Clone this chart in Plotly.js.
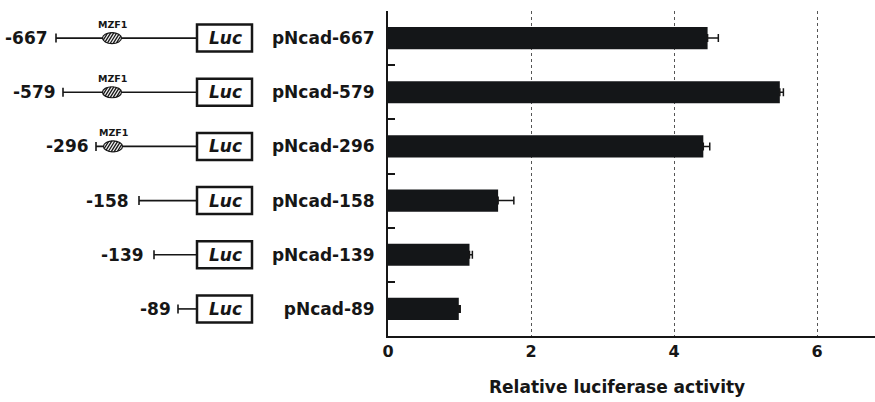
<!DOCTYPE html>
<html>
<head>
<meta charset="utf-8">
<script src="https://cdn.plot.ly/plotly-3.0.1.min.js"></script>
<style>html,body{margin:0;padding:0;background:#fff;}#chart{width:875px;height:402px;}</style>
</head>
<body>
<div id="chart"></div>
<script>
// ---- data ----
const constructs = ['pNcad-667', 'pNcad-579', 'pNcad-296', 'pNcad-158', 'pNcad-139', 'pNcad-89'];
const activity = [4.47, 5.48, 4.41, 1.54, 1.14, 0.99];
const errPlus = [0.15, 0.05, 0.09, 0.22, 0.04, 0.02];
const startLabels = ['-667', '-579', '-296', '-158', '-139', '-89'];
const hasMZF1 = [true, true, true, false, false, false];
const xTickVals = [0, 2, 4, 6];

// ---- schematic layout (page pixels) ----
const W = 875, H = 402, plotTop = 11, plotBottom = 336, axisX = 388;
const labelRight = [50, 58, 91, 131, 146, 173];
const lineStart = [56, 63, 96, 139, 154, 178];
const mzfX = [112, 112, 113];
const boxL = 197, boxR = 252, boxHalfH = 13.5;
const ink = '#161616';
const FONT = 'DejaVu Sans, Liberation Sans, Arial, sans-serif';

const n = constructs.length;
const rowY = i => plotTop + (i + 0.5) * (plotBottom - plotTop) / n;

const shapes = [];
const annotations = [];
function seg(x0, y0, x1, y1, w) {
  shapes.push({type: 'line', xref: 'x2', yref: 'y2', x0, y0, x1, y1, line: {color: ink, width: w}});
}
for (let i = 0; i < n; i++) {
  const cy = rowY(i);
  seg(lineStart[i], cy - 4.5, lineStart[i], cy + 4.5, 1.6);
  seg(lineStart[i], cy, boxL, cy, 1.6);
  shapes.push({type: 'rect', xref: 'x2', yref: 'y2', x0: boxL, x1: boxR, y0: cy - boxHalfH, y1: cy + boxHalfH,
    line: {color: ink, width: 2.5}, fillcolor: '#fff'});
  annotations.push({xref: 'x2', yref: 'y2', x: (boxL + boxR) / 2 + 1, y: cy, text: 'Luc', showarrow: false,
    xanchor: 'center', yanchor: 'middle', font: {family: FONT, size: 17, weight: 'bold', style: 'italic', color: ink}});
  annotations.push({xref: 'x2', yref: 'y2', x: labelRight[i], y: cy, text: startLabels[i], showarrow: false,
    xanchor: 'right', yanchor: 'middle', font: {family: FONT, size: 17, weight: 'bold', color: ink}});
  if (hasMZF1[i]) {
    const cx = mzfX[i], a = 9.5, b = 5.5;
    shapes.push({type: 'circle', xref: 'x2', yref: 'y2', x0: cx - a, x1: cx + a, y0: cy - b, y1: cy + b,
      line: {color: ink, width: 1.2}, fillcolor: '#f2f2f2'});
    const dx = 1, dy = -1.6;
    [-7.5, -4.5, -1.5, 1.5, 4.5, 7.5].forEach(t => {
      const A = (dx * dx) / (a * a) + (dy * dy) / (b * b);
      const B = 2 * t * dx / (a * a);
      const C = (t * t) / (a * a) - 1;
      const D = B * B - 4 * A * C;
      if (D <= 0) return;
      const s1 = (-B - Math.sqrt(D)) / (2 * A), s2 = (-B + Math.sqrt(D)) / (2 * A);
      seg(cx + t + s1 * dx, cy + s1 * dy, cx + t + s2 * dx, cy + s2 * dy, 1.3);
    });
    annotations.push({xref: 'x2', yref: 'y2', x: cx, y: cy - 14, text: 'MZF1', showarrow: false,
      xanchor: 'center', yanchor: 'middle', font: {family: FONT, size: 9.5, weight: 'bold', color: ink}});
  }
}

annotations.push({xref: 'paper', yref: 'paper', x: 617 / W, y: -(387 - plotBottom) / (plotBottom - plotTop),
  text: 'Relative luciferase activity', showarrow: false, xanchor: 'center', yanchor: 'middle',
  font: {family: FONT, size: 17, weight: 'bold', color: ink}});

const traces = [
  {
    type: 'bar', orientation: 'h', y: constructs, x: activity, width: 0.41,
    marker: {color: '#141618', line: {width: 0}},
    error_x: {type: 'data', symmetric: false, array: errPlus, arrayminus: activity.map(() => 0),
      color: ink, thickness: 1.5, width: 4},
    hoverinfo: 'skip', showlegend: false
  },
  {type: 'scatter', x: [-10], y: [-10], xaxis: 'x2', yaxis: 'y2', mode: 'markers',
    marker: {opacity: 0}, hoverinfo: 'skip', showlegend: false}
];

const xMax = (W - axisX) / 71.5;
const layout = {
  width: W, height: H,
  margin: {l: 0, r: 0, t: plotTop, b: H - plotBottom, pad: 0},
  paper_bgcolor: '#fff', plot_bgcolor: '#fff',
  showlegend: false,
  xaxis: {
    domain: [axisX / W, 1], range: [0, xMax], anchor: 'y',
    tickvals: xTickVals, ticks: '', showline: true, linewidth: 2, linecolor: ink,
    showgrid: true, gridcolor: '#555', griddash: 'dot', gridwidth: 1, zeroline: false,
    tickfont: {family: FONT, size: 16, weight: 'bold', color: ink}, automargin: false, fixedrange: true
  },
  yaxis: {
    type: 'category', categoryarray: constructs, categoryorder: 'array', range: [n - 0.5, -0.5], anchor: 'x',
    tickson: 'boundaries', ticks: 'inside', ticklen: 7, tickwidth: 2, tickcolor: ink,
    showline: true, linewidth: 2, linecolor: ink, showgrid: false, zeroline: false,
    ticklabelstandoff: 8,
    tickfont: {family: FONT, size: 17, weight: 'bold', color: ink}, automargin: false, fixedrange: true
  },
  xaxis2: {domain: [0, axisX / W], range: [0, axisX], anchor: 'y2', visible: false, fixedrange: true},
  yaxis2: {domain: [0, 1], range: [plotBottom, plotTop], anchor: 'x2', visible: false, fixedrange: true},
  shapes: shapes,
  annotations: annotations
};

Plotly.newPlot('chart', traces, layout, {displayModeBar: false, staticPlot: true});
</script>
</body>
</html>
